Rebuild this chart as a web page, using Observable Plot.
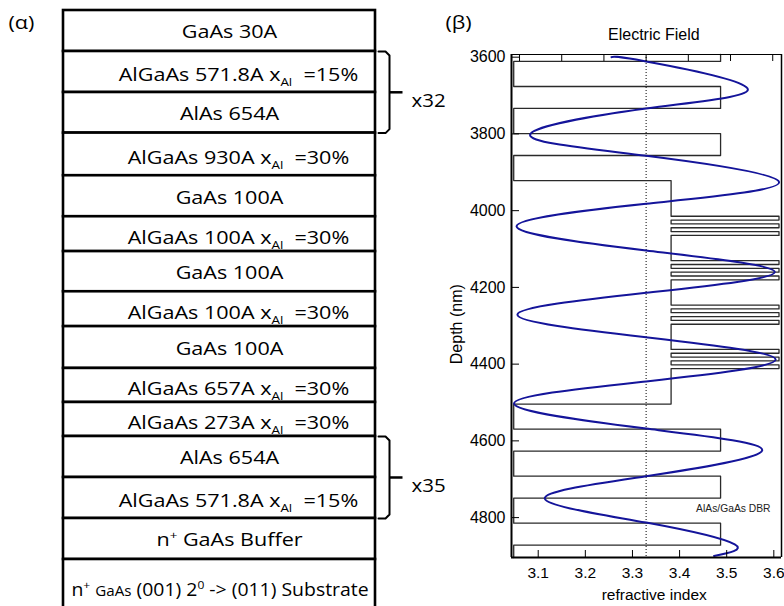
<!DOCTYPE html>
<html>
<head>
<meta charset="utf-8">
<script src="https://cdn.jsdelivr.net/npm/d3@7"></script>
<script src="https://cdn.jsdelivr.net/npm/@observablehq/plot@0.6"></script>
<style>
html, body { margin: 0; padding: 0; background: #fff; overflow: hidden; }
#wrap { position: relative; width: 784px; height: 606px; overflow: hidden; background: #fff; }
#a { position: absolute; left: 0; top: 0; }
#b { position: absolute; left: 440px; top: 0; }
</style>
</head>
<body>
<div id="wrap"><div id="a"></div><div id="b"></div></div>
<script>
// ---------------- Panel (α): layer stack ----------------
const layerLabels = [
  "GaAs 30A",
  "AlGaAs 571.8A x_{Al} \u00a0=15%",
  "AlAs 654A",
  "AlGaAs 930A x_{Al} \u00a0=30%",
  "GaAs 100A",
  "AlGaAs 100A x_{Al} \u00a0=30%",
  "GaAs 100A",
  "AlGaAs 100A x_{Al} \u00a0=30%",
  "GaAs 100A",
  "AlGaAs 657A x_{Al} \u00a0=30%",
  "AlGaAs 273A x_{Al} \u00a0=30%",
  "AlAs 654A",
  "AlGaAs 571.8A x_{Al} \u00a0=15%",
  "n^{+} GaAs Buffer",
  "n^{+} ~{GaAs} (001) 2^{0} -> (011) Substrate"
];
// relative drawn height of each layer row
const layerRows = [1, 1, 0.99, 1.04, 1, 0.85, 0.98, 0.85, 1.02, 0.83, 0.83, 1, 1, 1, 1.42];
const repeatFirst = [1, 11];
const repeatLast = [2, 12];
const repeatLabel = ["x32", "x35"];
const panelLabels = ["(α)", "(β)"];

// ---------------- Panel (β): refractive index profile ----------------
const profileStartDepth = 3593;
const profileMaterial = [
  "AlGaAs15", "AlAs", "AlGaAs15", "AlAs", "AlGaAs15", "AlAs",
  "AlGaAs30",
  "GaAs", "AlGaAs30", "GaAs", "AlGaAs30", "GaAs", "AlGaAs30",
  "GaAs", "AlGaAs30", "GaAs", "AlGaAs30", "GaAs", "AlGaAs30",
  "GaAs", "AlGaAs30", "GaAs", "AlGaAs30", "GaAs", "AlGaAs30",
  "GaAs", "AlGaAs30", "GaAs", "AlGaAs30", "GaAs", "AlGaAs30",
  "AlAs", "AlGaAs15", "AlAs", "AlGaAs15", "AlAs", "AlGaAs15", "AlAs"
];
const profileThickness = [
  18, 65.4, 57.2, 65.4, 57.2, 65.4,
  93,
  10, 10, 10, 10, 10, 65.7,
  10, 10, 10, 10, 10, 65.7,
  10, 10, 10, 10, 10, 65.7,
  10, 10, 10, 10, 10, 92.3,
  65.4, 57.2, 65.4, 57.2, 65.4, 57.2, 32.2
];
const materialNames = ["AlAs", "AlGaAs15", "AlGaAs30", "GaAs"];
const materialIndex = [3.048, 3.487, 3.382, 3.611];

// Electric field (top axis units) vs depth
const fieldDepth = [3600, 3611, 3681, 3734, 3802, 3857, 3926, 3982, 4041, 4104, 4160, 4214,
                    4271, 4330, 4388, 4445, 4503, 4568, 4625, 4692, 4751, 4813, 4870, 4900];
const fieldValue = [-0.82, 0, 2.40, 0, -2.75, 0, 3.15, 0, -3.07, 0, 3.05, 0,
                    -3.05, 0, 3.07, 0, -3.13, 0, 2.75, 0, -2.40, 0, 2.10, 1.61];
const fieldTicks = [-3, -2, -1, 0, 1, 2, 3];
const depthTicks = [3600, 3800, 4000, 4200, 4400, 4600, 4800];
const indexTicks = [3.1, 3.2, 3.3, 3.4, 3.5, 3.6];
const averageIndex = 3.329;
const dbrLabel = "AlAs/GaAs DBR";
const titles = ["Electric Field", "Depth (nm)", "refractive index"];

// ---------------- build panel α ----------------
const layers = layerLabels.map((label, i) => {
  const top = d3.sum(layerRows.slice(0, i));
  const bottom = top + layerRows[i];
  return {label, top, bottom, mid: (top + bottom) / 2,
    kind: i === layerLabels.length - 1 ? "sub" : label.includes("_{") ? "xal" : "plain"};
});
const boxPx = 312, rowPx = 41;
const u = (px) => px / boxPx;
const brackets = repeatLabel.map((label, g) => {
  const top = layers[repeatFirst[g]].top, bottom = layers[repeatLast[g]].bottom;
  return {g, label, top, bottom, mid: (top + bottom) / 2};
});
const r = 4 / rowPx;
const bx0 = 1 + u(3), bx1 = 1 + u(10), bx2 = 1 + u(14), bx3 = 1 + u(27), lx = 1 + u(36);
const bracketPts = brackets.flatMap(b => [
  {g: b.g, x: bx0, y: b.top}, {g: b.g, x: bx1, y: b.top}, {g: b.g, x: bx2, y: b.top + r},
  {g: b.g, x: bx2, y: b.bottom - r}, {g: b.g, x: bx1, y: b.bottom}, {g: b.g, x: bx0, y: b.bottom}
]);

const calibriLike = "'Open Sans', 'Noto Sans', sans-serif";
const plotA = Plot.plot({
  width: 440, height: 606,
  marginLeft: 63, marginRight: 65, marginTop: 10, marginBottom: 0,
  x: {domain: [0, 1], axis: null},
  y: {domain: [0, 596 / rowPx], reverse: true, axis: null},
  style: {fontFamily: calibriLike, fontSize: "18.6px", background: "transparent", overflow: "visible", color: "black"},
  marks: [
    Plot.rect(layers, {x1: 0, x2: 1, y1: "top", y2: "bottom", fill: "white", stroke: "black", strokeWidth: 2.6}),
    Plot.text(layers.filter(d => d.kind === "plain"), {x: 0.5, y: "mid", text: "label", dx: 10, dy: 1.5, fill: "black"}),
    Plot.text(layers.filter(d => d.kind === "xal"), {x: 0.5, y: "mid", text: "label", dx: 19, dy: 3.5, fill: "black"}),
    Plot.text(layers.filter(d => d.kind === "sub"), {x: 0.5, y: "mid", text: "label", dx: 0.5, dy: 1, fill: "black"}),
    Plot.line(bracketPts, {x: "x", y: "y", z: "g", stroke: "black", strokeWidth: 2}),
    Plot.link(brackets, {x1: bx2, x2: bx3, y1: "mid", y2: "mid", stroke: "black", strokeWidth: 2.5}),
    Plot.text(brackets, {x: lx, y: "mid", text: "label", textAnchor: "start", dy: 8.5, fill: "black"}),
    Plot.text([panelLabels[0]], {frameAnchor: "top-left", text: d => d, textAnchor: "start", lineAnchor: "top", dx: -55, dy: 5.3, fill: "black"})
  ]
});

// ---------------- build panel β ----------------
let depth = profileStartDepth;
const profilePts = [];
profileMaterial.forEach((m, i) => {
  const n = materialIndex[materialNames.indexOf(m)];
  profilePts.push({n, depth});
  depth += profileThickness[i];
  profilePts.push({n, depth});
});
const fieldPts = fieldDepth.map((d, i) => ({depth: d, E: fieldValue[i]}));
const nPerField = 0.08956;
const fieldToIndex = (E) => averageIndex + E * nPerField;

const xDomain = [3.0433, 3.6163];
const yDomain = [3593, 4904];
const arial = "'Liberation Sans', Arial, sans-serif";

const plotB = Plot.plot({
  width: 344, height: 606,
  marginLeft: 71, marginRight: 3, marginTop: 54, marginBottom: 49,
  x: {domain: xDomain},
  y: {domain: yDomain, reverse: true},
  style: {fontFamily: arial, fontSize: "16px", background: "transparent", overflow: "visible", color: "black"},
  marks: [
    Plot.ruleX([averageIndex], {stroke: "black", strokeWidth: 1, strokeDasharray: "1,2"}),
    Plot.line(profilePts, {x: "n", y: "depth", stroke: "#2a2a2a", strokeWidth: 1.3}),
    Plot.line(fieldPts, {x: d => fieldToIndex(d.E), y: "depth", curve: "natural", stroke: "#14149a", strokeWidth: 2}),
    Plot.ruleY([yDomain[0]], {stroke: "black", strokeWidth: 1}),
    Plot.ruleY([yDomain[1]], {stroke: "black", strokeWidth: 2}),
    Plot.ruleX([xDomain[0]], {stroke: "black", strokeWidth: 2}),
    Plot.ruleX([xDomain[1]], {stroke: "black", strokeWidth: 1.5}),
    Plot.tickY(depthTicks, {y: d => d, insetRight: 262, stroke: "black"}),
    Plot.tickX(indexTicks, {x: d => d, insetTop: 496, stroke: "black"}),
    Plot.tickX(fieldTicks, {x: d => fieldToIndex(d), insetBottom: 496, stroke: "black"}),
    Plot.axisY(depthTicks, {tickSize: 0, tickPadding: 6, tickFormat: d => `${d}`, label: null, fontSize: 16}),
    Plot.axisX(indexTicks, {tickSize: 0, tickPadding: 9, tickFormat: d => d.toFixed(1), label: null, fontSize: 15.5}),
    Plot.text([titles[0]], {frameAnchor: "top", text: d => d, textAnchor: "middle", lineAnchor: "middle", dx: 7.3, dy: -19.8, fontSize: 16, fill: "black"}),
    Plot.text([titles[1]], {frameAnchor: "left", text: d => d, rotate: -90, textAnchor: "middle", lineAnchor: "middle", dx: -54.6, dy: 18.2, fontSize: 16, fill: "black"}),
    Plot.text([titles[2]], {frameAnchor: "bottom", text: d => d, textAnchor: "middle", lineAnchor: "middle", dx: 7.7, dy: 37.3, fontSize: 15.5, fill: "black"}),
    Plot.text([dbrLabel], {x: 3.514, y: 4777, text: d => d, fontSize: 10.3, fill: "#222"}),
    Plot.text([panelLabels[1]], {frameAnchor: "top-left", text: d => d, textAnchor: "start", lineAnchor: "top", dx: -66, dy: -38.7, fontSize: 18.6, fontFamily: calibriLike, fill: "black"})
  ]
});

// rich text: _{sub}, ^{sup}, ~{small}; and horizontal stretch of the Calibri-like labels
function richify(textNode, sx) {
  const t = d3.select(textNode);
  const s = textNode.textContent;
  const stretch = s.includes("Substrate") ? sx * 0.9 : /^x3/.test(s) ? sx * 0.95 : sx;
  if (stretch) t.attr("transform", (t.attr("transform") || "") + ` scale(${stretch},1)`);
  if (!/[_^~]\{/.test(s)) return;
  textNode.textContent = "";
  const parts = s.split(/([_^~]\{[^}]*\})/).filter(p => p.length);
  let shift = 0;
  for (const p of parts) {
    const m = p.match(/^([_^~])\{([^}]*)\}$/);
    const ts = t.append("tspan");
    let dy = -shift; shift = 0;
    if (!m) { ts.text(p); }
    else {
      const kind = m[1];
      ts.text(m[2]);
      if (kind === "_") { ts.attr("font-size", "0.62em"); dy += 5; shift = 5; }
      else if (kind === "^") { ts.attr("font-size", "0.62em"); dy += -7; shift = -7; }
      else { ts.attr("font-size", "0.78em"); }
    }
    if (dy) ts.attr("dy", dy);
  }
}
d3.select(plotA).selectAll("text").each(function() { richify(this, 1.16); });
d3.select(plotB).selectAll("text").filter(function() { return this.textContent === panelLabels[1]; })
  .each(function() { richify(this, 1.16); });

document.getElementById("a").appendChild(plotA);
document.getElementById("b").appendChild(plotB);
</script>
</body>
</html>
